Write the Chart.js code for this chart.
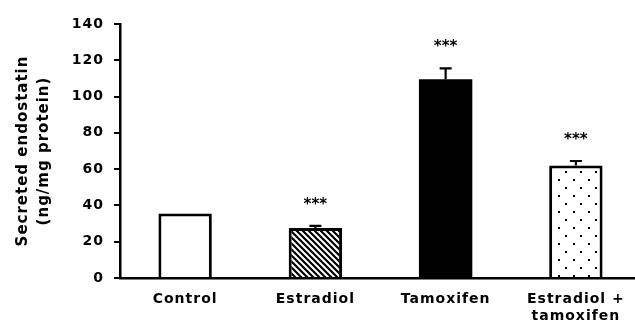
<!DOCTYPE html>
<html>
<head>
<meta charset="utf-8">
<script src="https://cdn.jsdelivr.net/npm/chart.js@4.4.0/dist/chart.umd.min.js"></script>
<style>
  html, body { margin: 0; padding: 0; background: #fff; overflow: hidden; }
  #wrap { position: relative; width: 641px; height: 326px; }
</style>
</head>
<body>
<div id="wrap"><canvas id="c"></canvas></div>
<script>
// Secreted endostatin per treatment group (mean, SEM)
const categories = [['Control'], ['Estradiol'], ['Tamoxifen'], ['Estradiol +', 'tamoxifen']];
const means = [35.5, 27.5, 109.5, 62];
const sems = [0, 1.2, 6, 2.5];
const significance = ['', '***', '***', '***'];
const yTicks = [0, 20, 40, 60, 80, 100, 120, 140];

const FONT = 'DejaVu Sans';

function hatchPattern() {
  const c = document.createElement('canvas');
  c.width = 6; c.height = 6;
  const g = c.getContext('2d');
  g.fillStyle = '#fff';
  g.fillRect(0, 0, 6, 6);
  g.strokeStyle = '#000';
  g.lineWidth = 2.2;
  g.beginPath();
  g.moveTo(-3, -3); g.lineTo(9, 9);
  g.moveTo(-9, -3); g.lineTo(3, 9);
  g.moveTo(3, -3); g.lineTo(15, 9);
  g.stroke();
  return g.createPattern(c, 'repeat');
}

function dotPattern() {
  const c = document.createElement('canvas');
  c.width = 15; c.height = 16;
  const g = c.getContext('2d');
  g.fillStyle = '#fff';
  g.fillRect(0, 0, 15, 16);
  g.fillStyle = '#000';
  g.fillRect(3, 3, 2, 2);
  g.fillRect(10, 11, 2, 2);
  return g.createPattern(c, 'repeat');
}

const fills = ['#ffffff', hatchPattern(), '#000000', dotPattern()];
// the solid black bar needs no separate outline
const outlines = [3, 3, 0, 3];

// Error bars (upper only) and significance stars
const errorBars = {
  id: 'errorBars',
  afterDatasetsDraw(chart) {
    const ctx = chart.ctx;
    const meta = chart.getDatasetMeta(0);
    const y = chart.scales.y;
    ctx.save();
    ctx.strokeStyle = '#000';
    ctx.lineWidth = 2.2;
    meta.data.forEach((bar, i) => {
      const top = y.getPixelForValue(means[i] + sems[i]);
      if (sems[i] > 0) {
        ctx.beginPath();
        ctx.moveTo(bar.x, bar.y);
        ctx.lineTo(bar.x, top);
        ctx.moveTo(bar.x - 6, top);
        ctx.lineTo(bar.x + 6, top);
        ctx.stroke();
      }
      if (significance[i]) {
        ctx.fillStyle = '#000';
        ctx.font = 'bold 15px ' + FONT;
        ctx.letterSpacing = '0px';
        ctx.textAlign = 'center';
        ctx.textBaseline = 'middle';
        ctx.fillText(significance[i], bar.x, top - 21);
      }
    });
    ctx.restore();
  }
};

const spacing = {
  id: 'spacing',
  beforeInit(chart) { chart.ctx.letterSpacing = '1px'; },
  beforeDraw(chart) { chart.ctx.letterSpacing = '1px'; }
};

new Chart(document.getElementById('c'), {
  type: 'bar',
  data: {
    labels: categories,
    datasets: [{
      data: means,
      backgroundColor: fills,
      borderColor: '#000',
      borderWidth: outlines,
      borderSkipped: 'bottom',
      barPercentage: 0.41,
      categoryPercentage: 1
    }]
  },
  plugins: [spacing, errorBars],
  options: {
    responsive: true,
    maintainAspectRatio: false,
    animation: false,
    layout: { padding: { top: 24, left: 0, right: 0, bottom: 0 } },
    plugins: { legend: { display: false }, tooltip: { enabled: false } },
    scales: {
      x: {
        offset: true,
        grid: { display: false },
        border: { display: true, color: '#000', width: 2.5 },
        ticks: {
          color: '#000',
          font: { family: FONT, size: 14, weight: 'bold' },
          padding: 5,
          maxRotation: 0,
          autoSkip: false
        },
        afterFit(scale) { scale.height = 48; }
      },
      y: {
        min: 0,
        max: 140,
        afterBuildTicks(scale) { scale.ticks = yTicks.map(v => ({ value: v })); },
        grid: {
          drawOnChartArea: false,
          drawTicks: true,
          tickLength: 6,
          color: '#000',
          lineWidth: 2
        },
        border: { display: true, color: '#000', width: 2.5 },
        ticks: {
          color: '#000',
          font: { family: FONT, size: 14, weight: 'bold' },
          padding: 10
        },
        title: {
          display: true,
          text: ['Secreted endostatin', '(ng/mg protein)'],
          color: '#000',
          font: { family: FONT, size: 15, weight: 'bold', lineHeight: 1.4 },
          padding: { top: 13, bottom: 4 }
        },
        afterFit(scale) { scale.width = 120; }
      }
    }
  }
});
</script>
</body>
</html>
